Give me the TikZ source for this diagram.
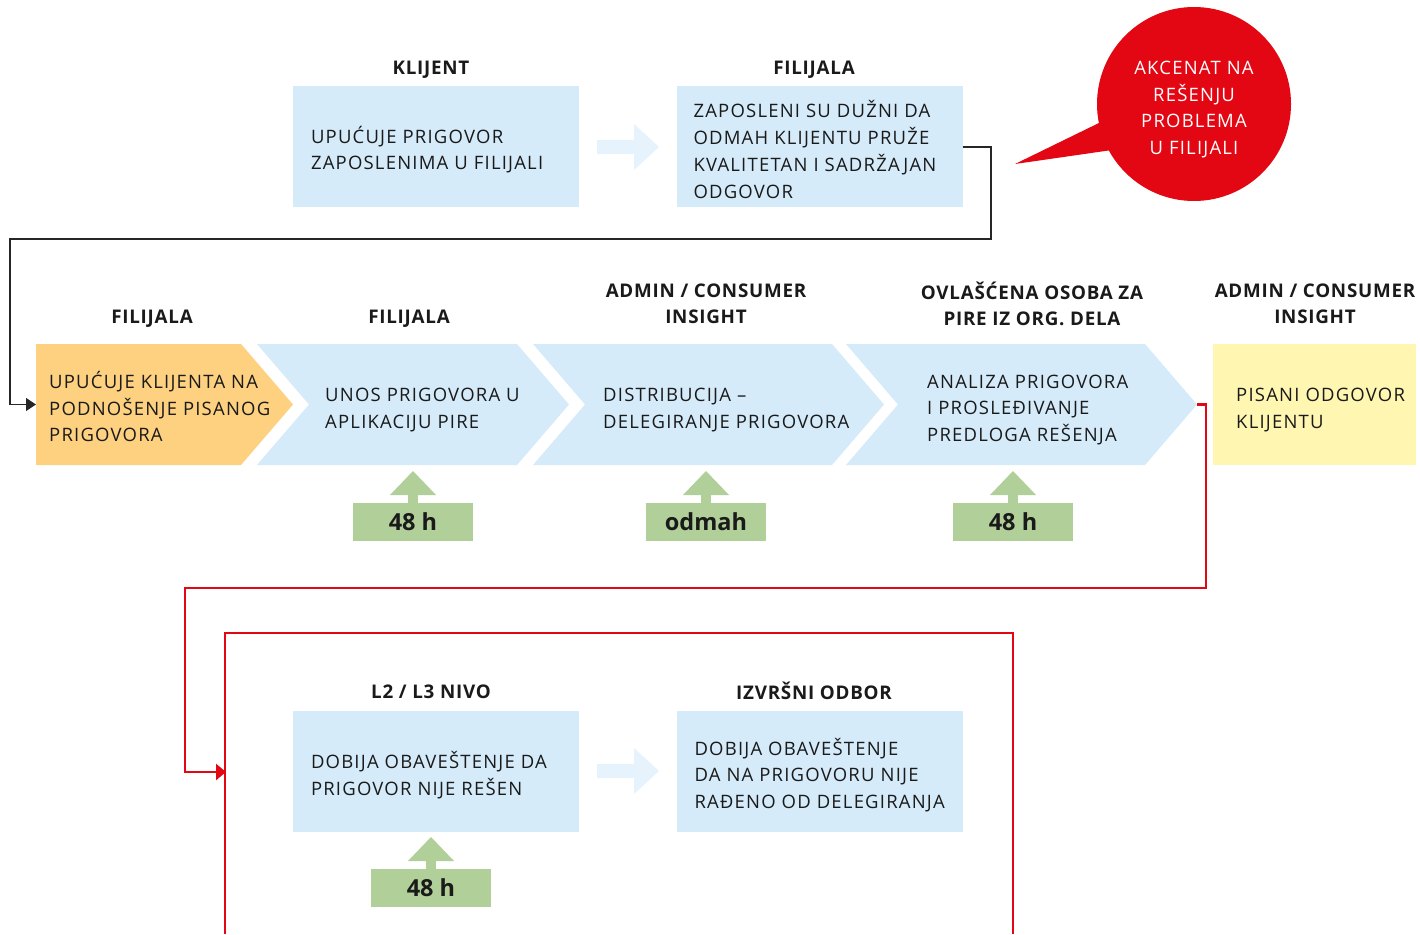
\documentclass[tikz,border=0pt]{standalone}
\usepackage{fontspec}
\setmainfont{Open Sans}[LetterSpace=6.5]
\newfontfamily\hfont{Open Sans}[LetterSpace=4,BoldFont={Open Sans Bold}]
\newfontfamily\nfont{Open Sans}
\usetikzlibrary{arrows.meta}
\definecolor{lblue}{HTML}{D5EBFA}
\definecolor{larrow}{HTML}{E6F3FD}
\definecolor{lorange}{HTML}{FDD17F}
\definecolor{lyellow}{HTML}{FFF6B1}
\definecolor{lgreen}{HTML}{B1CF98}
\definecolor{bred}{HTML}{E30613}
\definecolor{txtc}{HTML}{1A1A1A}
\tikzset{
  bluebox/.style={fill=lblue, draw=none, minimum width=286pt, minimum height=121pt, inner sep=0pt},
  txt/.style={anchor=west, align=left, inner sep=0pt, text=txtc, font=\fontsize{18.5}{26.7}\selectfont},
  hdr/.style={align=center, inner sep=0pt, text=txtc, font=\hfont\bfseries\fontsize{18.8}{26}\selectfont},
  greenbox/.style={fill=lgreen, minimum width=120pt, minimum height=38pt, inner sep=0pt, text=txtc, font=\nfont\bfseries\fontsize{23.5}{24}\selectfont},
  blackline/.style={draw=black!85, line width=1.2pt},
  redline/.style={draw=bred, line width=2.5pt},
}
\newcommand{\uparr}[1]{% #1 = x center, uses top y 471
  \fill[lgreen] (#1-23,495) -- (#1,471) -- (#1+23,495) -- cycle;
  \fill[lgreen] (#1-5,494) rectangle (#1+5,504);
}
\begin{document}
\begin{tikzpicture}[x=1pt,y=-1pt]
\useasboundingbox (0,0) rectangle (1420,934);
\fill[white] (0,0) rectangle (1420,934);

% ---- top row ----
\node[hdr] (h1) at (431,69.5) {KLIJENT};
\node[hdr] (h2) at (814,69.5) {FILIJALA};
\node[bluebox] (b1) at (436,146.5) {};
\node[txt] (t1) at ([xshift=18pt,yshift=-3pt]b1.west) {UPUĆUJE PRIGOVOR\\ZAPOSLENIMA U FILIJALI};
\node[bluebox] (b2) at (819.5,146.5) {};
\node[txt] (t2) at ([xshift=17pt,yshift=-3pt]b2.west) {ZAPOSLENI SU DUŽNI DA\\ODMAH KLIJENTU PRUŽE\\KVALITETAN I SADRŽAJAN\\ODGOVOR};
\fill[larrow] (597,140) -- (634,140) -- (634,124) -- (659,147) -- (634,170) -- (634,154) -- (597,154) -- cycle;

% ---- bubble ----
\fill[bred] (1194,104) circle (97);
\fill[bred] (1015,164) -- (1103,121) -- (1112,150) -- cycle;
\node[align=center, inner sep=0pt, text=white, font=\fontsize{18.5}{26.7}\selectfont] (bub) at (1194,109.5) {AKCENAT NA\\REŠENJU\\PROBLEMA\\U FILIJALI};

% ---- second row ----
\node[hdr] (h3) at (152,318.5) {FILIJALA};
\node[hdr] (h4) at (409,318.5) {FILIJALA};
\node[hdr] (h5) at (706,304) {ADMIN / CONSUMER\\INSIGHT};
\node[hdr] (h6) at (1032,303.5) {OVLAŠĆENA OSOBA ZA\\PIRE IZ ORG. DELA};
\node[hdr] (h7) at (1315,304) {ADMIN / CONSUMER\\INSIGHT};

\fill[lorange] (36,344) -- (241,344) -- (293,404.5) -- (241,465) -- (36,465) -- cycle;
\coordinate (c1in) at (36,404.5);
\fill[lblue] (257,344) -- (517,344) -- (569,404.5) -- (517,465) -- (257,465) -- (309,404.5) -- cycle;
\fill[lblue] (533,344) -- (832,344) -- (884,404.5) -- (832,465) -- (533,465) -- (585,404.5) -- cycle;
\fill[lblue] (846,344) -- (1145,344) -- (1197,404.5) -- (1145,465) -- (846,465) -- (898,404.5) -- cycle;
\coordinate (c4out) at (1197,404.5);
\fill[lyellow] (1213,344) rectangle (1416,465);

\node[txt] (t3) at (49,406.5) {UPUĆUJE KLIJENTA NA\\PODNOŠENJE PISANOG\\PRIGOVORA};
\node[txt] (t4) at (325,410) {UNOS PRIGOVORA U\\APLIKACIJU PIRE};
\node[txt] (t5) at (603,410) {DISTRIBUCIJA –\\DELEGIRANJE PRIGOVORA};
\node[txt] (t6) at (927,410) {ANALIZA PRIGOVORA\\I PROSLEĐIVANJE\\PREDLOGA REŠENJA};
\node[txt] (t7) at (1236,410) {PISANI ODGOVOR\\KLIJENTU};

\uparr{413}
\node[greenbox] (g1) at (413,522) {48 h};
\uparr{706}
\node[greenbox] (g2) at (706,522) {odmah};
\uparr{1013}
\node[greenbox] (g3) at (1013,522) {48 h};

% ---- black connector ----
\draw[blackline, -{Triangle[length=10pt,width=13pt]}] (b2.east |- 0,147) -- (991,147) -- (991,239) -- (10,239) -- (10,404.5) -- (c1in);

% ---- red frame and connector ----
\draw[redline] (225,934) -- (225,633) -- (1013,633) -- (1013,934);
\coordinate (fin) at (226,772);
\draw[redline, -{Triangle[length=10pt,width=16pt]}] (c4out) -- (1206,404.5) -- (1206,588) -- (185,588) -- (185,772) -- (fin);

% ---- bottom row ----
\node[hdr] (h8) at (431,692) {L2 / L3 NIVO};
\node[hdr] (h9) at (814,691) {IZVRŠNI ODBOR};
\node[bluebox] (b3) at (436,771.5) {};
\node[txt] (t8) at ([xshift=18pt,yshift=-3.5pt]b3.west) {DOBIJA OBAVEŠTENJE DA\\PRIGOVOR NIJE REŠEN};
\node[bluebox] (b4) at (819.5,771.5) {};
\node[txt] (t9) at ([xshift=18pt,yshift=-3.5pt]b4.west) {DOBIJA OBAVEŠTENJE\\DA NA PRIGOVORU NIJE\\RAĐENO OD DELEGIRANJA};
\fill[larrow] (597,764) -- (634,764) -- (634,748) -- (659,771) -- (634,794) -- (634,778) -- (597,778) -- cycle;
\begin{scope}[yshift=-366pt]
\uparr{431}
\end{scope}
\node[greenbox] (g4) at (431,888) {48 h};
\end{tikzpicture}
\end{document}
